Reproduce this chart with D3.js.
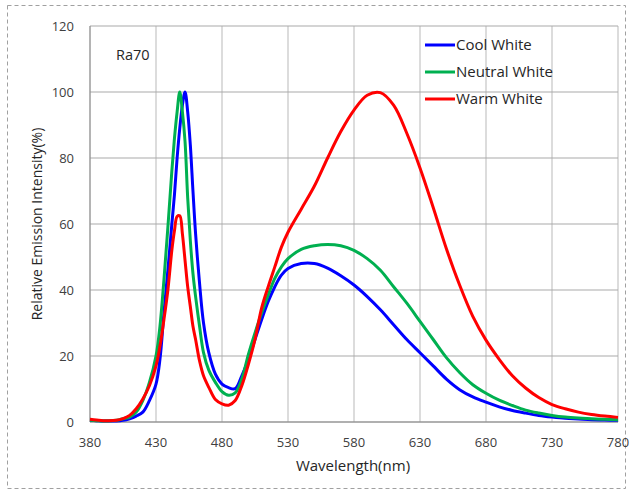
<!DOCTYPE html>
<meta charset="utf-8">
<style>
body { margin: 0; background: #fff; }
svg { font-family: "Open Sans", "Liberation Sans", sans-serif; }
.grid-x line { stroke: #d0d0d0; stroke-width: 1.5; }
.grid-y line { stroke: #a9a9a9; stroke-width: 1; }
.tick-label { fill: #404040; font-size: 13px; }
.curve { fill: none; stroke-width: 3; stroke-linejoin: round; }
</style>
<svg width="632" height="491"></svg>
<script src="https://cdn.jsdelivr.net/npm/d3@7"></script>
<script>
// wavelength grid (nm), shared by all three spectra
var wavelengths = [380, 385, 390, 400, 405, 410, 415, 420, 425, 430, 433, 436, 439, 442, 444, 446, 448, 450, 452, 454, 456, 458, 460, 463, 466, 470, 475, 480, 485, 490, 495, 500, 505, 510, 515, 520, 525, 530, 540, 550, 560, 570, 580, 590, 600, 610, 620, 630, 640, 650, 660, 670, 680, 690, 700, 710, 720, 730, 740, 750, 760, 770, 780];

var coolWhite = [0.5, 0.4, 0.3, 0.3, 0.5, 1, 1.8, 3, 6.5, 11.5, 19, 33, 46, 60, 69, 80, 89, 96, 100, 94, 84, 70, 57, 42, 30, 21, 14.5, 11.5, 10.4, 10.1, 14, 19, 25, 31, 36.5, 41, 44.5, 46.5, 48, 48, 46.6, 44.3, 41.5, 38, 34, 29.5, 25, 21, 17, 13, 9.8, 7.6, 6, 4.6, 3.5, 2.7, 2, 1.5, 1.1, 0.9, 0.7, 0.6, 0.5];

var neutralWhite = [0.5, 0.4, 0.3, 0.5, 1, 1.5, 3, 6.5, 12, 20, 29, 43, 59, 76, 86, 94, 100, 94, 85, 68, 55, 45, 38, 29, 21, 15.7, 12, 9.2, 8.1, 8.8, 13, 20.5, 27, 33, 38.5, 43.5, 47, 49.5, 52.3, 53.4, 53.8, 53.4, 52, 49.5, 46, 41, 36, 30.5, 25, 19.5, 15, 11.3, 8.7, 6.6, 5, 3.6, 2.7, 2, 1.5, 1.2, 1, 0.8, 0.7];

var warmWhite = [0.8, 0.6, 0.4, 0.5, 1, 2, 4, 7, 11, 17, 23, 31, 40, 52, 58, 62.3, 62.5, 57, 49, 41, 35, 29, 25, 18.5, 14, 10.5, 6.8, 5.5, 5.1, 6.5, 11, 17.5, 25, 34.5, 41, 47, 53, 57.5, 64.5, 71.5, 80, 88, 94.5, 99, 99.8, 96, 87.5, 77, 65, 52.5, 41.5, 32, 24.8, 19, 14, 10.3, 7.4, 5.3, 4, 3, 2.3, 1.8, 1.4];

var seriesNames = ["Cool White", "Neutral White", "Warm White"];
var seriesColors = ["#0000ff", "#00b050", "#ff0000"];
var xTicks = [380, 430, 480, 530, 580, 630, 680, 730, 780];
var yTicks = [0, 20, 40, 60, 80, 100, 120];

var series = [coolWhite, neutralWhite, warmWhite];

var svg = d3.select("svg"),
    margin = {top: 26, right: 14, bottom: 69, left: 90},
    width = +svg.attr("width") - margin.left - margin.right,
    height = +svg.attr("height") - margin.top - margin.bottom;

// outer dashed frame
svg.append("rect")
    .attr("x", 7.5).attr("y", 5.5)
    .attr("width", 618).attr("height", 483)
    .attr("fill", "none")
    .attr("stroke", "#a0a0a0")
    .attr("stroke-dasharray", "4,3");

var x = d3.scaleLinear().domain([380, 780]).range([0, width]),
    y = d3.scaleLinear().domain([0, 120]).range([height, 0]);

var g = svg.append("g")
    .attr("transform", "translate(" + margin.left + "," + margin.top + ")");

// vertical gridlines
g.append("g").attr("class", "grid-x")
  .selectAll("line").data(xTicks).enter().append("line")
    .attr("x1", function(d) { return x(d); })
    .attr("x2", function(d) { return x(d); })
    .attr("y1", 0).attr("y2", height);

// horizontal gridlines
g.append("g").attr("class", "grid-y")
  .selectAll("line").data(yTicks).enter().append("line")
    .attr("x1", 0).attr("x2", width)
    .attr("y1", function(d) { return y(d); })
    .attr("y2", function(d) { return y(d); });

// axis lines
g.append("line").attr("x1", 0).attr("x2", 0).attr("y1", 0).attr("y2", height)
    .attr("stroke", "#8c8c8c");
g.append("line").attr("x1", 0).attr("x2", width).attr("y1", height).attr("y2", height)
    .attr("stroke", "#8c8c8c");

// tick labels
g.selectAll(".ylab").data(yTicks).enter().append("text")
    .attr("class", "tick-label")
    .attr("x", -16)
    .attr("y", function(d) { return y(d); })
    .attr("dy", "0.35em")
    .attr("text-anchor", "end")
    .text(function(d) { return d; });

g.selectAll(".xlab").data(xTicks).enter().append("text")
    .attr("class", "tick-label")
    .attr("x", function(d) { return x(d); })
    .attr("y", height + 25)
    .attr("text-anchor", "middle")
    .text(function(d) { return d; });

// axis titles
svg.append("text")
    .attr("x", 353).attr("y", 471)
    .attr("text-anchor", "middle")
    .attr("fill", "#262626")
    .style("font-size", "15px")
    .text("Wavelength(nm)");

svg.append("text")
    .attr("transform", "translate(42,224) rotate(-90)")
    .attr("text-anchor", "middle")
    .attr("fill", "#262626")
    .style("font-size", "14px")
    .text("Relative Emission Intensity(%)");

svg.append("text")
    .attr("x", 116).attr("y", 60)
    .attr("fill", "#262626")
    .style("font-size", "14.5px")
    .text("Ra70");

// curves
var line = d3.line()
    .x(function(d) { return x(d[0]); })
    .y(function(d) { return y(d[1]); })
    .curve(d3.curveCatmullRom.alpha(0.5));

series.forEach(function(vals, i) {
  g.append("path")
      .datum(wavelengths.map(function(w, k) { return [w, vals[k]]; }))
      .attr("class", "curve")
      .attr("stroke", seriesColors[i])
      .attr("d", line);
});

// legend
var legend = svg.append("g").attr("transform", "translate(425,45)");
seriesNames.forEach(function(name, i) {
  var row = legend.append("g").attr("transform", "translate(0," + (i * 27) + ")");
  row.append("line").attr("x1", 0).attr("x2", 30)
      .attr("stroke", seriesColors[i]).attr("stroke-width", 3);
  row.append("text").attr("x", 31).attr("dy", "0.35em")
      .attr("fill", "#262626")
      .style("font-size", "15px")
      .text(name);
});
</script>
